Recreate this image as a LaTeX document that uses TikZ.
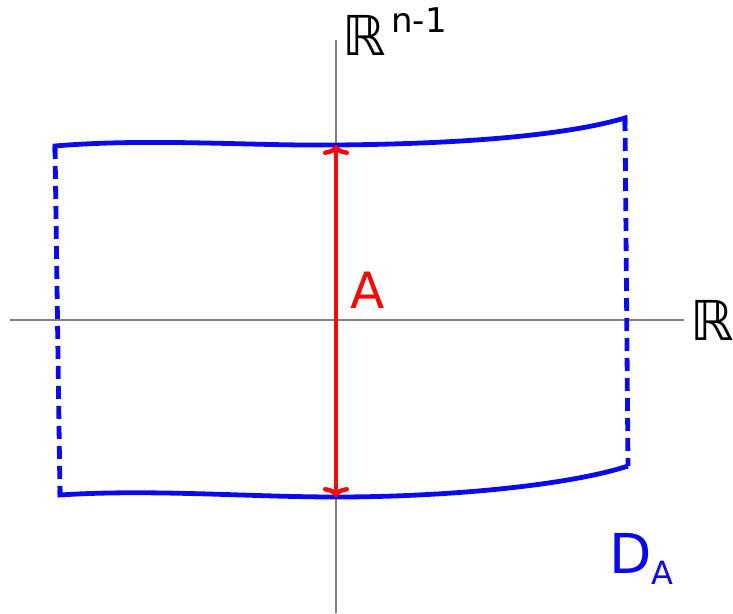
\documentclass[tikz,border=0pt]{standalone}
\usepackage{fontspec}
\setmainfont{DejaVu Sans}
\usetikzlibrary{arrows.meta, positioning, calc}
\definecolor{domblue}{RGB}{10,10,235}
\definecolor{lenred}{RGB}{245,10,10}
\definecolor{axisgray}{RGB}{128,128,128}

\begin{document}
\begin{tikzpicture}[x=1pt, y=-1pt,
  axis/.style={draw=axisgray, line width=1.4pt},
  edge/.style={draw=domblue, line width=4.8pt},
  sideedge/.style={edge, dash pattern=on 13pt off 7pt},
  bigtext/.style={inner sep=0pt, anchor=base west}]
\useasboundingbox (0,0) rectangle (733,613);

% axes
\coordinate (xl) at (10,320);
\coordinate (xr) at (684,320);
\coordinate (yb) at (336,613);
\coordinate (yt) at (336,40);
\draw[axis] (xl) -- (xr);
\draw[axis] (yb) -- (yt);
\node[bigtext, font=\fontsize{55}{55}\selectfont] (lblR) at (690,340) {ℝ};
\node[bigtext, font=\fontsize{55}{55}\selectfont] (lblRn) at (342,55)
  {ℝ{\fontsize{34}{34}\selectfont\raisebox{23pt}{\,n-1}}};

% the domain D_A
\coordinate (tl) at (55,146);
\coordinate (tm) at (336,145);
\coordinate (tr) at (625,118);
\coordinate (bl) at (60,495);
\coordinate (bm) at (336,497);
\coordinate (br) at (628,466);
\draw[edge] ($(tl)+(0,6)$) -- (tl) .. controls (150,138) and (250,146) .. (tm)
  .. controls (450,144) and (560,137) .. (tr) -- ($(tr)+(0,7)$);
\draw[edge] ($(bl)+(0,-6)$) -- (bl) .. controls (150,489) and (250,497) .. (bm)
  .. controls (450,497) and (570,485) .. (br);
\draw[sideedge] (tl) -- (bl);
\draw[sideedge] (tr) -- (br);
\node[bigtext, text=domblue, font=\fontsize{55}{55}\selectfont] (lblD) at (609,573)
  {D{\fontsize{32}{32}\selectfont\raisebox{-11pt}{A}}};

% the length A
\draw[draw=lenred, line width=4.5pt,
  {Computer Modern Rightarrow[length=10pt,width=26pt]}-{Computer Modern Rightarrow[length=10pt,width=26pt]}]
  (bm) -- (tm);
\node[bigtext, text=lenred, font=\fontsize{50}{50}\selectfont] (lblA) at (350,308) {A};
\end{tikzpicture}
\end{document}
